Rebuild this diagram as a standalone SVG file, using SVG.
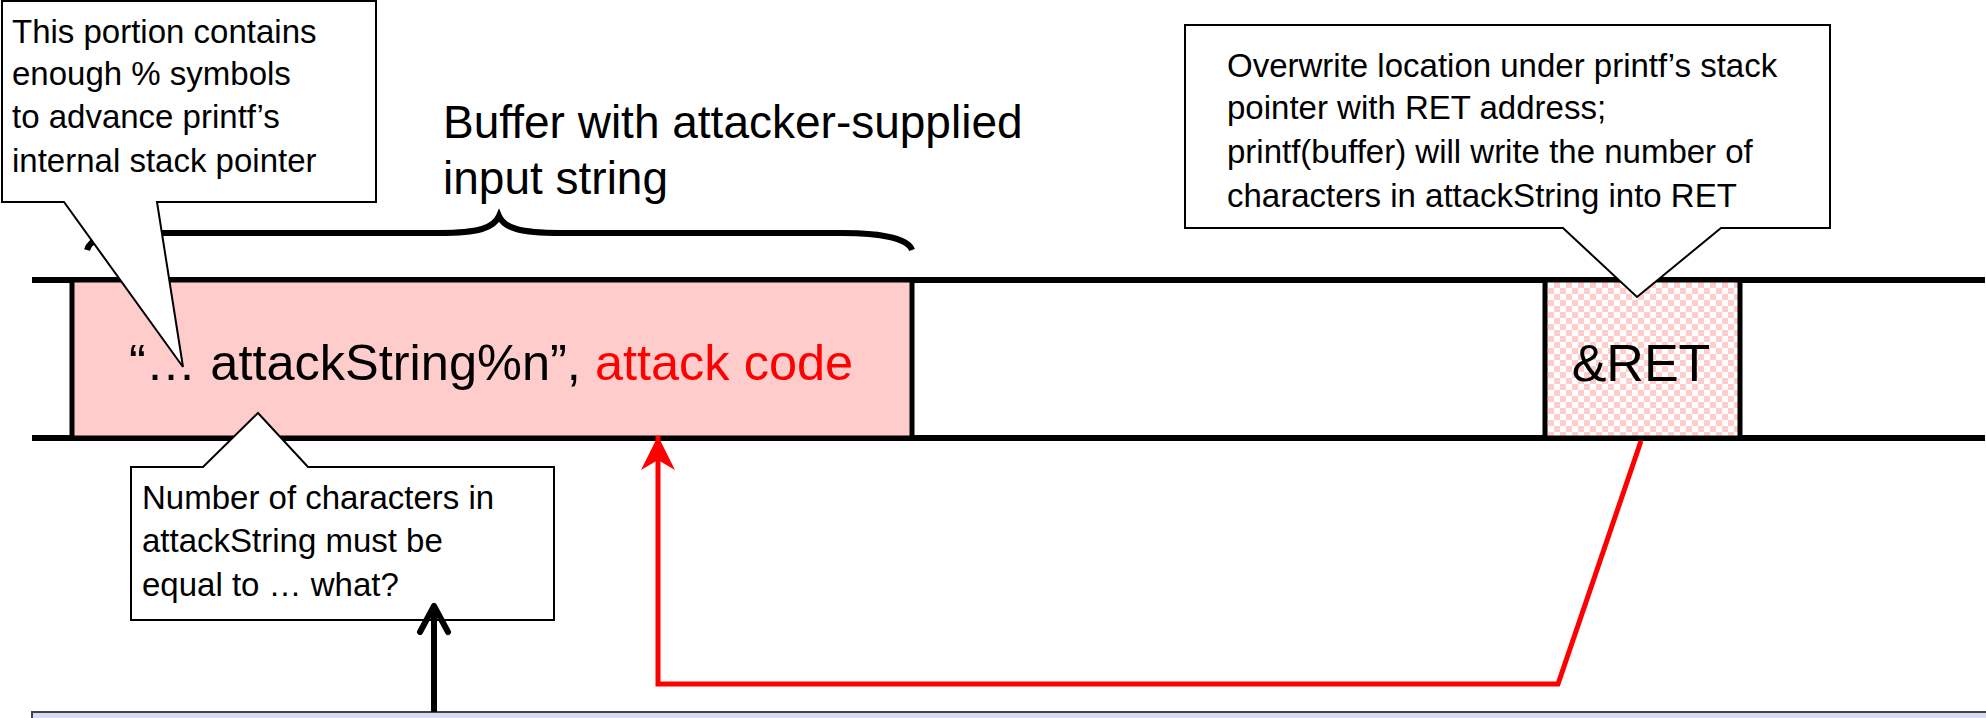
<svg xmlns="http://www.w3.org/2000/svg" width="1986" height="718" viewBox="0 0 1986 718">
<style>
text{font-family:"Liberation Sans",Arial,sans-serif;fill:#000}
.t33{font-size:33px}
.t45{font-size:46px}
.t50{font-size:50.5px}
.callout{fill:#fff;stroke:#000;stroke-width:2;stroke-linejoin:miter}
.rail{stroke:#000;stroke-width:6;fill:none}
.cell{stroke:#000;stroke-width:5}
</style>
<defs>
<pattern id="checker" width="12" height="12" patternUnits="userSpaceOnUse">
<rect width="12" height="12" fill="#fff"/>
<rect width="6" height="6" fill="#FFCCCC"/>
<rect x="6" y="6" width="6" height="6" fill="#FFCCCC"/>
</pattern>
<marker id="redhead" viewBox="0 0 36 34" refX="34" refY="17" markerWidth="36" markerHeight="34" markerUnits="userSpaceOnUse" orient="auto">
<path d="M34 17 L0 0 L10 17 L0 34 Z" fill="#f00"/>
</marker>
</defs>

<g id="stack">
<line class="rail" x1="32" y1="280" x2="1985" y2="280"/>
<line class="rail" x1="32" y1="438" x2="1985" y2="438"/>
</g>

<g id="brace">
<path d="M87 250 C90 238 110 233 140 233 L440 233 C478 233 494 228 499 216 C504 228 520 233 560 233 L842 233 C880 233 908 238 912 250" fill="none" stroke="#000" stroke-width="6"/>
</g>

<g id="title">
<text class="t45" x="443" y="138">Buffer with attacker-supplied</text>
<text class="t45" x="443" y="194">input string</text>
</g>

<g id="buffer">
<rect class="cell" x="72" y="280" width="840" height="158" fill="#FFCCCC"/>
<text class="t50" x="129" y="380">“… attackString%n”, <tspan fill="#f00">attack code</tspan></text>
</g>

<g id="ret">
<rect class="cell" x="1545" y="280" width="195" height="158" fill="url(#checker)"/>
<text x="1641" y="381" text-anchor="middle" font-size="52">&amp;RET</text>
</g>

<g id="bottom-band">
<rect x="32" y="712" width="1960" height="20" fill="#D9D9F8" stroke="#444" stroke-width="2"/>
</g>

<g id="callout-percent">
<path class="callout" d="M2 1 L376 1 L376 202 L157 202 L183 367 L64 202 L2 202 Z"/>
<text class="t33" x="12" y="43">This portion contains</text>
<text class="t33" x="12" y="85">enough % symbols</text>
<text class="t33" x="12" y="128">to advance printf’s</text>
<text class="t33" x="12" y="172">internal stack pointer</text>
</g>

<g id="callout-overwrite">
<path class="callout" d="M1185 25 L1830 25 L1830 228 L1721 228 L1637 297 L1563 228 L1185 228 Z"/>
<text class="t33" x="1227" y="77">Overwrite location under printf’s stack</text>
<text class="t33" x="1227" y="119">pointer with RET address;</text>
<text class="t33" x="1227" y="163">printf(buffer) will write the number of</text>
<text class="t33" x="1227" y="207">characters in attackString into RET</text>
</g>

<g id="callout-count">
<path class="callout" d="M131 467 L203 467 L258 413 L308 467 L554 467 L554 620 L131 620 Z"/>
<text class="t33" x="142" y="509">Number of characters in</text>
<text class="t33" x="142" y="552">attackString must be</text>
<text class="t33" x="142" y="596">equal to … what?</text>
</g>

<g id="connectors">
<path d="M1641 441 L1558 684 L658 684 L658 436" fill="none" stroke="#f00" stroke-width="5" stroke-linejoin="miter" marker-end="url(#redhead)"/>
<line x1="434" y1="712" x2="434" y2="606" stroke="#000" stroke-width="6"/>
<path d="M420 632 L434 606 L448 632" fill="none" stroke="#000" stroke-width="6" stroke-linecap="round" stroke-linejoin="round"/>
</g>
</svg>
